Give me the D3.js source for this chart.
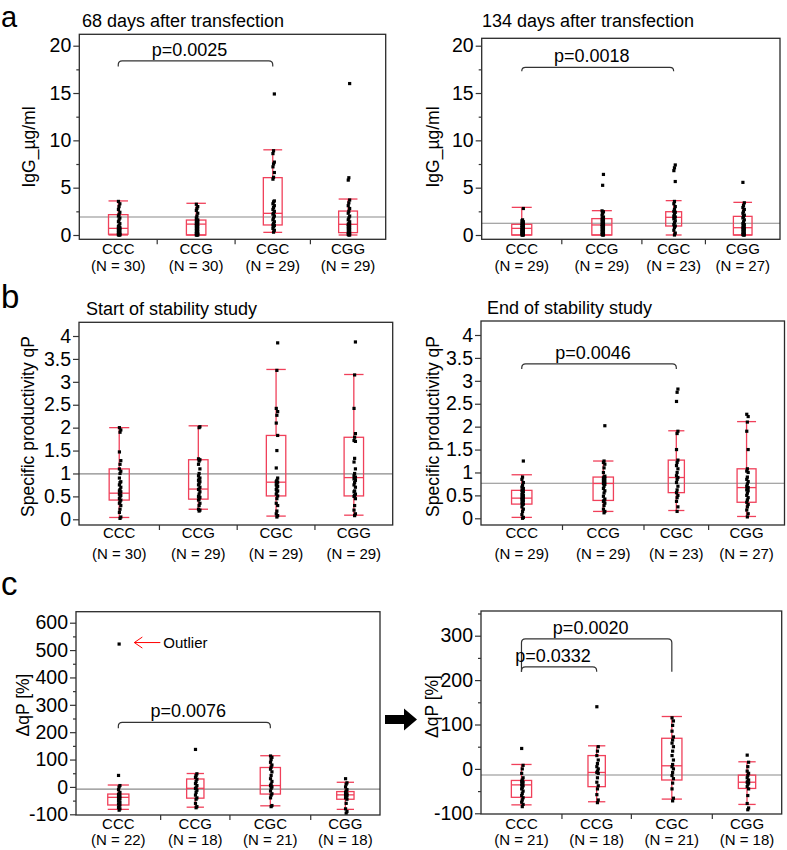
<!DOCTYPE html>
<html><head><meta charset="utf-8">
<script src="https://cdn.jsdelivr.net/npm/d3@7"></script>
<style>body{margin:0;background:#fff} svg{display:block} text{font-family:"Liberation Sans",Arial,Helvetica,sans-serif;fill:#000}</style>
</head><body><svg id="chart" width="787" height="850"></svg>
<script>
// ---------------- DATA ----------------
const categories = ["CCC","CCG","CGC","CGG"];

// a, left: 68 days after transfection (IgG µg/ml)
const a1N = [30,30,29,29];
const a1Stats = [[0,0.08,0.7,2.15,3.6],[0,0,1.15,1.58,3.35],[0.28,1.06,2.29,6.06,9.0],[0,0.25,1.13,2.53,3.8]]; // [low, q1, median, q3, high]
const a1Points = [
  [0,0,0.02,0.05,0.08,0.1,0.15,0.2,0.3,0.35,0.45,0.5,0.6,0.65,0.7,0.72,0.8,0.9,1.0,1.2,1.4,1.6,1.8,2.0,2.15,2.4,2.7,3.0,3.3,3.55],
  [0,0,0,0.05,0.1,0.15,0.2,0.3,0.4,0.5,0.6,0.7,0.8,0.9,1.0,1.1,1.15,1.2,1.3,1.4,1.5,1.55,1.6,1.8,2.0,2.3,2.6,2.8,3.0,3.25],
  [0.3,0.5,0.7,0.9,1.0,1.06,1.2,1.4,1.6,1.8,2.0,2.2,2.29,2.5,2.7,2.9,3.1,3.3,3.5,3.6,5.9,6.1,6.6,7.2,7.5,7.7,8.6,8.9,14.9],
  [0,0,0.05,0.1,0.2,0.25,0.35,0.5,0.6,0.7,0.8,0.9,1.0,1.1,1.13,1.2,1.4,1.6,1.8,2.0,2.3,2.5,2.8,3.1,3.4,3.7,5.8,6.05,16.0]
];
const a1Mean = 1.9;
const a1Brackets = [{from:"CCC", to:"CGC", top:18.4, leg:17.8, label:"p=0.0025"}];

// a, right: 134 days after transfection
const a2N = [29,29,23,27];
const a2Stats = [[0,0,0.7,1.13,2.92],[0,0,1.06,1.73,2.57],[0,0.95,1.87,2.46,3.63],[0,0,0.77,1.97,3.45]];
const a2Points = [
  [0,0,0,0.05,0.1,0.15,0.2,0.25,0.3,0.35,0.4,0.45,0.5,0.55,0.6,0.7,0.75,0.8,0.85,0.9,1.0,1.1,1.15,1.2,1.3,1.4,1.5,1.6,2.8],
  [0,0,0.05,0.1,0.2,0.3,0.4,0.5,0.6,0.7,0.8,0.9,1.0,1.06,1.1,1.2,1.3,1.4,1.5,1.6,1.7,1.8,1.9,2.1,2.3,2.45,2.55,5.25,6.4],
  [0,0.2,0.5,0.8,0.95,1.1,1.3,1.5,1.7,1.87,1.9,2.0,2.2,2.4,2.5,2.7,3.0,3.3,3.55,5.65,6.8,7.1,7.4],
  [0,0,0.05,0.1,0.2,0.3,0.4,0.5,0.6,0.7,0.77,0.85,1.0,1.1,1.2,1.4,1.6,1.8,1.95,2.1,2.3,2.5,2.7,2.9,3.1,3.4,5.56]
];
const a2Mean = 1.24;
const a2Brackets = [{from:"CCC", to:"CGC", top:17.7, leg:17.3, label:"p=0.0018"}];

// b, left: start of stability study (qP)
const b1N = [30,29,29,29];
const b1Stats = [[0.04,0.42,0.57,1.1,2.0],[0.22,0.44,0.66,1.3,2.04],[0.07,0.51,0.81,1.83,3.27],[0.09,0.51,0.91,1.79,3.16]];
const b1Points = [
  [0.02,0.05,0.15,0.22,0.3,0.35,0.38,0.42,0.45,0.5,0.52,0.55,0.57,0.6,0.62,0.65,0.7,0.75,0.8,0.82,0.9,1.0,1.05,1.1,1.2,1.28,1.47,1.9,1.95,2.0],
  [0.18,0.2,0.22,0.3,0.35,0.42,0.44,0.48,0.5,0.55,0.6,0.65,0.66,0.7,0.75,0.78,0.82,0.85,0.88,0.9,0.95,1.0,1.1,1.2,1.27,1.3,1.32,2.0,2.02],
  [0.05,0.08,0.12,0.18,0.3,0.35,0.45,0.51,0.55,0.6,0.62,0.65,0.7,0.72,0.75,0.78,0.81,0.82,0.85,0.9,1.12,1.5,1.83,2.1,2.27,2.35,2.42,3.25,3.85],
  [0.08,0.12,0.2,0.3,0.45,0.5,0.52,0.55,0.6,0.62,0.7,0.75,0.8,0.85,0.88,0.91,0.92,0.95,1.0,1.1,1.25,1.33,1.7,1.72,1.79,1.87,2.42,3.15,3.87]
];
const b1Mean = 0.99;
const b1Brackets = [];

// b, right: end of stability study
const b2N = [29,29,23,27];
const b2Stats = [[0.02,0.31,0.44,0.61,0.95],[0.15,0.39,0.76,0.9,1.25],[0.17,0.56,0.89,1.27,1.91],[0.04,0.35,0.67,1.08,2.11]];
const b2Points = [
  [0,0.02,0.08,0.15,0.2,0.25,0.3,0.31,0.33,0.35,0.38,0.4,0.42,0.44,0.45,0.47,0.5,0.52,0.55,0.58,0.6,0.61,0.65,0.68,0.72,0.78,0.85,0.9,1.25],
  [0.12,0.15,0.2,0.28,0.33,0.37,0.39,0.42,0.48,0.55,0.6,0.65,0.7,0.74,0.76,0.78,0.8,0.82,0.85,0.87,0.88,0.9,0.92,1.0,1.1,1.18,1.22,1.25,2.02],
  [0.15,0.25,0.37,0.45,0.5,0.56,0.62,0.7,0.78,0.85,0.89,0.93,1.0,1.08,1.15,1.22,1.27,1.5,1.85,1.9,2.55,2.75,2.82],
  [0.03,0.1,0.18,0.25,0.3,0.35,0.4,0.45,0.5,0.55,0.6,0.62,0.65,0.67,0.7,0.75,0.8,0.85,0.9,1.0,1.03,1.08,1.5,1.9,2.1,2.22,2.27]
];
const b2Mean = 0.765;
const b2Brackets = [{from:"CCC", to:"CGC", top:3.37, leg:3.26, label:"p=0.0046"}];

// c, left: ΔqP [%]
const c1N = [22,18,21,18];
const c1Stats = [[-82,-66,-38,-26,7],[-74,-41,-5,29,49],[-69,-26,5,71,114],[-82,-45,-29,-17,17]];
const c1Points = [
  [-85,-80,-75,-70,-66,-62,-58,-55,-50,-45,-42,-38,-35,-32,-28,-25,-20,-10,0,5,42,522],
  [-76,-72,-60,-45,-40,-30,-20,-12,-6,-3,5,12,20,28,35,42,48,137],
  [-72,-68,-40,-30,-25,-15,-5,0,5,10,20,30,42,55,65,72,80,90,100,108,113],
  [-96,-90,-80,-60,-45,-40,-35,-32,-30,-28,-25,-20,-15,-10,0,10,15,30]
];
const c1Mean = -7.7;
const c1Brackets = [{from:"CCC", to:"CGC", top:236, leg:214, label:"p=0.0076"}];
const c1Outlier = {cat:"CCC", value:522, text:"Outlier"};

// c, right: ΔqP [%] without outlier
const c2N = [21,18,21,18];
const c2Stats = [[-81,-64,-36,-26,10],[-74,-40,-8,30,52],[-68,-25,7,69,118],[-80,-44,-30,-14,16]];
const c2Points = [
  [-85,-80,-75,-70,-65,-60,-55,-50,-45,-42,-38,-36,-33,-30,-28,-25,-20,-10,0,8,46],
  [-76,-70,-58,-45,-38,-30,-20,-10,-8,-5,0,5,12,20,30,40,50,140],
  [-72,-66,-45,-32,-22,-15,-8,0,5,10,20,30,40,50,58,65,72,85,98,108,115],
  [-92,-88,-78,-60,-45,-40,-35,-32,-30,-28,-25,-20,-15,-10,-5,5,15,31]
];
const c2Mean = -13.7;
const c2Brackets = [
  {from:"CCC", to:"CGC", top:293, leg:219, label:"p=0.0020"},
  {from:"CCC", to:"CCG", top:230, leg:219, label:"p=0.0332"}
];

// tick labels
const ticksA = [0,5,10,15,20], minorA = [2.5,7.5,12.5,17.5];
const ticksB = [0,0.5,1,1.5,2,2.5,3,3.5,4], minorB = [];
const ticksC1 = [-100,0,100,200,300,400,500,600], minorC1 = [-50,50,150,250,350,450,550];
const ticksC2 = [-100,0,100,200,300], minorC2 = [-50,50,150,250,350];

// ---------------- LAYOUT ----------------
const panels = [
  {title:"68 days after transfection", ylabel:"IgG_µg/ml", N:a1N, stats:a1Stats, points:a1Points, mean:a1Mean, brackets:a1Brackets,
   ticks:ticksA, minor:minorA, frame:[79.3,385.7,34.3,239.3], yMap:[[0,235],[20,45.7]], titlePos:[82,27], ylabPos:[35,147], catY:[254,271]},
  {title:"134 days after transfection", ylabel:"IgG_µg/ml", N:a2N, stats:a2Stats, points:a2Points, mean:a2Mean, brackets:a2Brackets,
   ticks:ticksA, minor:minorA, frame:[481.7,780,38.3,239.3], yMap:[[0,235],[20,45.7]], titlePos:[482,27], ylabPos:[439,147], catY:[254,271]},
  {title:"Start of stability study", ylabel:"Specific productivity qP", N:b1N, stats:b1Stats, points:b1Points, mean:b1Mean, brackets:b1Brackets,
   ticks:ticksB, minor:minorB, frame:[79,392.7,322.3,525], yMap:[[0,519.3],[4,336]], titlePos:[86,315], ylabPos:[34,426.5], catY:[538,559]},
  {title:"End of stability study", ylabel:"Specific productivity qP", N:b2N, stats:b2Stats, points:b2Points, mean:b2Mean, brackets:b2Brackets,
   ticks:ticksB, minor:minorB, frame:[481,784.5,321,525], yMap:[[0,518.3],[4,335]], titlePos:[487,314], ylabPos:[439,426.5], catY:[538,559]},
  {title:"", ylabel:"ΔqP [%]", N:c1N, stats:c1Stats, points:c1Points, mean:c1Mean, brackets:c1Brackets, outlier:c1Outlier,
   ticks:ticksC1, minor:minorC1, frame:[76,380,611.7,815], yMap:[[-100,814.3],[600,622.7]], titlePos:[0,0], ylabPos:[29,705], catY:[829,845]},
  {title:"", ylabel:"ΔqP [%]", N:c2N, stats:c2Stats, points:c2Points, mean:c2Mean, brackets:c2Brackets,
   ticks:ticksC2, minor:minorC2, frame:[481,781.7,611,814], yMap:[[-100,813.3],[300,635.7]], titlePos:[0,0], ylabPos:[437.5,706.5], catY:[829,845]}
];

const RED = "#f0405a";
const svg = d3.select("#chart");
svg.append("rect").attr("width",787).attr("height",850).attr("fill","#fff");

// panel letters
[["a",27,29],["b",307.5,33],["c",595,33]].forEach(([t,yy,fs]) =>
  svg.append("text").attr("x",1).attr("y",yy).attr("font-size",fs).text(t));

panels.forEach(p => {
  const [x0,x1,y0,y1] = p.frame;
  const y = d3.scaleLinear().domain([p.yMap[0][0], p.yMap[1][0]]).range([p.yMap[0][1], p.yMap[1][1]]);
  const total = d3.sum(p.N);
  const xw = d3.scaleLinear().domain([0,total]).range([x0,x1]);
  const cum = Array.from(d3.cumsum(p.N));
  const bands = categories.map((c,i) => {
    const a = xw(i===0?0:cum[i-1]), b = xw(cum[i]);
    return {c, a, b, cx:(a+b)/2, w:(b-a)*0.25};
  });
  const bandOf = name => bands[categories.indexOf(name)];
  const g = svg.append("g");

  if (p.title) g.append("text").attr("x",p.titlePos[0]).attr("y",p.titlePos[1]).attr("font-size",18).text(p.title);

  g.append("text").attr("transform",`translate(${p.ylabPos[0]},${p.ylabPos[1]}) rotate(-90)`)
    .attr("text-anchor","middle").attr("font-size",17.5).text(p.ylabel);

  // grand mean line
  g.append("line").attr("x1",x0).attr("x2",x1).attr("y1",y(p.mean)).attr("y2",y(p.mean))
    .attr("stroke","#8a8a8a").attr("stroke-width",1.2);

  // boxes
  const bg = g.selectAll("g.box").data(bands).join("g").attr("class","box")
    .attr("fill","none").attr("stroke",RED).attr("stroke-width",1.3);
  bg.each(function(bd,i){
    const [lo,q1,med,q3,hi] = p.stats[i];
    const sel = d3.select(this);
    sel.append("rect").attr("x",bd.cx-bd.w/2).attr("width",bd.w).attr("y",y(q3)).attr("height",y(q1)-y(q3));
    sel.append("line").attr("x1",bd.cx-bd.w/2).attr("x2",bd.cx+bd.w/2).attr("y1",y(med)).attr("y2",y(med));
    sel.append("line").attr("x1",bd.cx).attr("x2",bd.cx).attr("y1",y(q3)).attr("y2",y(hi));
    sel.append("line").attr("x1",bd.cx).attr("x2",bd.cx).attr("y1",y(q1)).attr("y2",y(lo));
    sel.append("line").attr("x1",bd.cx-bd.w/2).attr("x2",bd.cx+bd.w/2).attr("y1",y(hi)).attr("y2",y(hi));
    sel.append("line").attr("x1",bd.cx-bd.w/2).attr("x2",bd.cx+bd.w/2).attr("y1",y(lo)).attr("y2",y(lo));
  });

  // points (narrow deterministic jitter)
  const jit = [0.8, 1.6, 0.2];
  bands.forEach((bd,i) => {
    g.append("g").selectAll("rect").data(p.points[i]).join("rect")
      .attr("x",(d,j)=>bd.cx + jit[j%3] - 1.6).attr("y",d=>y(d)-1.6)
      .attr("width",3.2).attr("height",3.2).attr("fill","#000");
  });

  // frame
  g.append("rect").attr("x",x0).attr("y",y0).attr("width",x1-x0).attr("height",y1-y0)
    .attr("fill","none").attr("stroke","#2a2a2a").attr("stroke-width",1.3);

  // y axis
  const ax = g.append("g").attr("transform",`translate(${x0},0)`)
    .call(d3.axisLeft(y).tickValues(p.ticks).tickSize(6).tickPadding(2).tickFormat(d=>String(d)));
  ax.select(".domain").remove();
  ax.selectAll("line").attr("stroke","#333").attr("stroke-width",1.2);
  ax.selectAll("text").attr("font-size",19.5).attr("fill","#000").style("font-family",'"Liberation Sans",Arial,sans-serif');
  if (p.minor.length) {
    const mx = g.append("g").attr("transform",`translate(${x0},0)`)
      .call(d3.axisLeft(y).tickValues(p.minor).tickSize(3).tickFormat(""));
    mx.select(".domain").remove();
    mx.selectAll("line").attr("stroke","#333").attr("stroke-width",1.2);
  }

  // x dividers and labels
  bands.slice(0,-1).forEach(bd => {
    g.append("line").attr("x1",bd.b).attr("x2",bd.b).attr("y1",y1).attr("y2",y1+5).attr("stroke","#333").attr("stroke-width",1.2);
  });
  bands.forEach((bd,i) => {
    g.append("text").attr("x",bd.cx).attr("y",p.catY[0]).attr("text-anchor","middle").attr("font-size",15).text(bd.c);
    g.append("text").attr("x",bd.cx).attr("y",p.catY[1]).attr("text-anchor","middle").attr("font-size",15).text(`(N = ${p.N[i]})`);
  });

  // significance brackets
  p.brackets.forEach(br => {
    const xa = bandOf(br.from).cx, xb = bandOf(br.to).cx;
    const yt = y(br.top), yl = y(br.leg);
    const r = Math.min(4, yl - yt);
    g.append("path").attr("fill","none").attr("stroke","#333").attr("stroke-width",1.2)
      .attr("d",`M${xa},${yl} L${xa},${yt+r} Q${xa},${yt} ${xa+r},${yt} L${xb-r},${yt} Q${xb},${yt} ${xb},${yt+r} L${xb},${yl}`);
    g.append("text").attr("x",(xa+xb)/2-6).attr("y",yt-5).attr("text-anchor","middle").attr("font-size",18).text(br.label);
  });

  // outlier annotation
  if (p.outlier) {
    const bd = bandOf(p.outlier.cat);
    const tip = bd.cx + 16, yy = y(p.outlier.value) - 1.5;
    g.append("line").attr("x1",tip).attr("x2",tip+26).attr("y1",yy).attr("y2",yy).attr("stroke","#f00").attr("stroke-width",1);
    g.append("path").attr("fill","none").attr("stroke","#f00").attr("stroke-width",1)
      .attr("d",`M${tip+8},${yy-5.5} L${tip},${yy} L${tip+8},${yy+5.5}`);
    g.append("text").attr("x",tip+29).attr("y",yy+5).attr("font-size",15).text(p.outlier.text);
  }
});

// big arrow between c panels
{
  const xs = panels[4].frame[1] + 5, yc = 719.5;
  svg.append("path").attr("fill","#000")
    .attr("d",`M${xs},${yc-4.5} L${xs+19},${yc-4.5} L${xs+19},${yc-11} L${xs+32},${yc} L${xs+19},${yc+11} L${xs+19},${yc+4.5} L${xs},${yc+4.5} Z`);
}
</script></body></html>
